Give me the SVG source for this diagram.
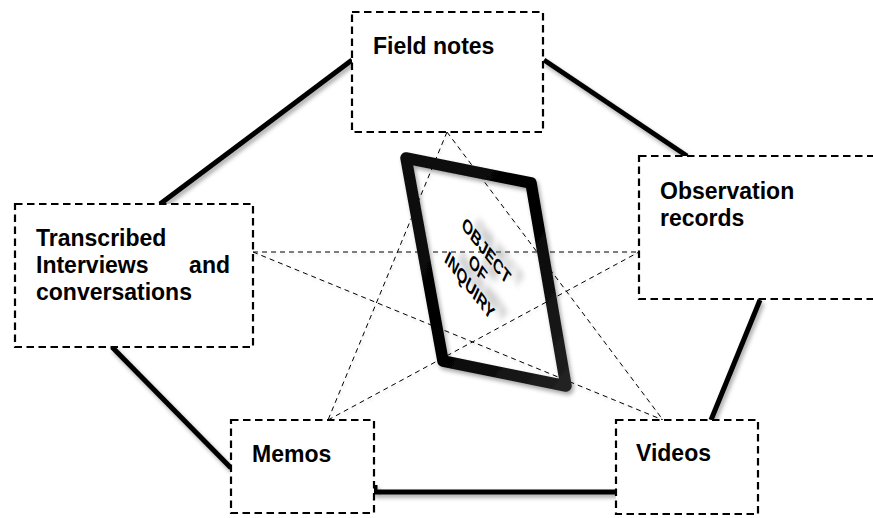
<svg xmlns="http://www.w3.org/2000/svg" width="873" height="518" viewBox="0 0 873 518">
  <defs>
    <style>
      .box { fill: #fff; stroke: #000; stroke-width: 2.2; stroke-dasharray: 7.5 4.5; }
      .lbl { font-family: "Liberation Sans", Arial, sans-serif; font-weight: bold; font-size: 23px; fill: #000; }
      .link { stroke: #000; stroke-width: 5; fill: none; stroke-linecap: butt; }
      .star { stroke: #000; stroke-width: 1; fill: none; stroke-dasharray: 5 4; }
      .core { font-family: "Liberation Sans", Arial, sans-serif; font-weight: bold; font-size: 16px; text-anchor: middle; }
    </style>
    <filter id="shade" x="-20%" y="-20%" width="140%" height="140%">
      <feDropShadow dx="2" dy="3" stdDeviation="2" flood-color="#000" flood-opacity="0.35"/>
    </filter>
    <filter id="softShade" x="-20%" y="-20%" width="140%" height="140%">
      <feDropShadow dx="1" dy="2" stdDeviation="1.5" flood-color="#000" flood-opacity="0.15"/>
    </filter>
    <filter id="blur" x="-40%" y="-40%" width="180%" height="180%">
      <feGaussianBlur stdDeviation="3"/>
    </filter>
    <linearGradient id="frameGrad" x1="0" y1="0" x2="1" y2="1">
      <stop offset="0" stop-color="#111"/>
      <stop offset="0.5" stop-color="#000"/>
      <stop offset="1" stop-color="#222"/>
    </linearGradient>
  </defs>

  <rect width="873" height="518" fill="#fff"/>

  <!-- connectors: thin dashed star and solid outer ring -->
  <g id="connectors">
    <g filter="url(#softShade)">
      <line class="star" x1="447" y1="132" x2="328" y2="420"/>
      <line class="star" x1="447" y1="132" x2="663" y2="420"/>
      <line class="star" x1="253" y1="252" x2="639" y2="252"/>
      <line class="star" x1="253" y1="252" x2="663" y2="420"/>
      <line class="star" x1="328" y1="420" x2="639" y2="252"/>
    </g>
    <g filter="url(#shade)">
      <line class="link" x1="352" y1="60" x2="160" y2="204"/>
      <line class="link" x1="544" y1="60" x2="687" y2="156"/>
      <line class="link" x1="760" y1="300" x2="711" y2="420"/>
      <line class="link" x1="112" y1="347" x2="231" y2="468"/>
      <polyline class="link" points="375,485 375,492 616,492"/>
    </g>
  </g>

  <!-- central frame -->
  <g id="object-of-inquiry">
    <polygon points="406,158 531,183 566,386 443,361" fill="none" stroke="url(#frameGrad)" stroke-width="11.5" stroke-linejoin="round" filter="url(#shade)"/>
    <g transform="matrix(0.708,0.906,-0.458,0.972,478,268)">
      <g fill="#888" opacity="0.7" filter="url(#blur)" transform="translate(12.3,-9.4)">
        <text class="core" x="0" y="-12.3">OBJECT</text>
        <text class="core" x="0" y="5.7">OF</text>
        <text class="core" x="0" y="23.7">INQUIRY</text>
      </g>
      <g fill="#000">
        <text class="core" x="0" y="-12.3">OBJECT</text>
        <text class="core" x="0" y="5.7">OF</text>
        <text class="core" x="0" y="23.7">INQUIRY</text>
      </g>
    </g>
  </g>

  <g id="field-notes">
    <rect class="box" x="352" y="12" width="191" height="120"/>
    <text class="lbl" x="373" y="54">Field notes</text>
  </g>

  <g id="transcribed">
    <rect class="box" x="15" y="204" width="238" height="143"/>
    <text class="lbl" x="36" y="246">Transcribed</text>
    <text class="lbl" x="36" y="273">Interviews</text>
    <text class="lbl" x="230" y="273" text-anchor="end">and</text>
    <text class="lbl" x="36" y="300">conversations</text>
  </g>

  <g id="observation">
    <rect class="box" x="639" y="156" width="250" height="143"/>
    <text class="lbl" x="660" y="199">Observation</text>
    <text class="lbl" x="660" y="226">records</text>
  </g>

  <g id="memos">
    <rect class="box" x="231" y="420" width="143" height="93"/>
    <text class="lbl" x="252" y="462">Memos</text>
  </g>

  <g id="videos">
    <rect class="box" x="616" y="420" width="142" height="94"/>
    <text class="lbl" x="636" y="461">Videos</text>
  </g>
</svg>
